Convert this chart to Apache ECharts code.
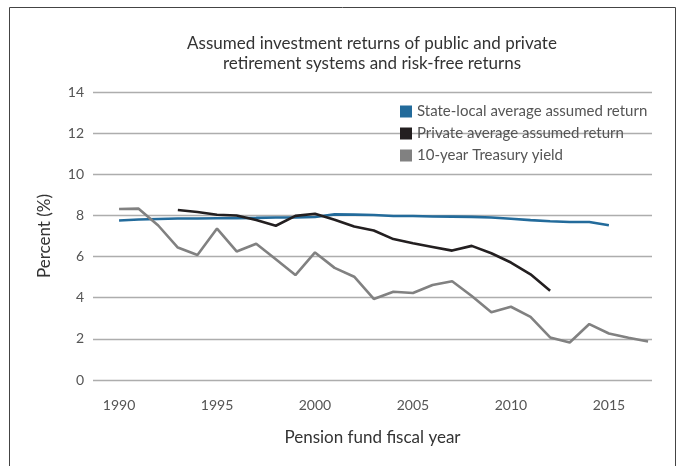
<!DOCTYPE html>
<html>
<head>
<meta charset="utf-8">
<script src="https://cdn.jsdelivr.net/npm/echarts@6/dist/echarts.min.js"></script>
<style>
html,body{margin:0;padding:0;background:#fff;}
#c{width:680px;height:466px;}
</style>
</head>
<body>
<div id="c"></div>
<script>
var titleLines = ['Assumed investment returns of public and private', 'retirement systems and risk-free returns'];
var xTickLabels = [1990, 1995, 2000, 2005, 2010, 2015];
var seriesNames = ['State-local average assumed return', 'Private average assumed return', '10-year Treasury yield'];

var stateYears = [1990,1991,1992,1993,1994,1995,1996,1997,1998,1999,2000,2001,2002,2003,2004,2005,2006,2007,2008,2009,2010,2011,2012,2013,2014,2015];
var stateValues = [7.75,7.80,7.83,7.85,7.85,7.86,7.87,7.88,7.90,7.90,7.92,8.05,8.04,8.02,7.97,7.97,7.95,7.94,7.93,7.90,7.84,7.77,7.72,7.68,7.68,7.52];

var privateYears = [1993,1994,1995,1996,1997,1998,1999,2000,2001,2002,2003,2004,2005,2006,2007,2008,2009,2010,2011,2012];
var privateValues = [8.26,8.17,8.03,8.00,7.78,7.50,7.98,8.08,7.79,7.46,7.27,6.85,6.65,6.47,6.29,6.52,6.16,5.71,5.14,4.34];

var treasuryYears = [1990,1991,1992,1993,1994,1995,1996,1997,1998,1999,2000,2001,2002,2003,2004,2005,2006,2007,2008,2009,2010,2011,2012,2013,2014,2015,2016,2017];
var treasuryValues = [8.31,8.33,7.51,6.44,6.08,7.36,6.25,6.62,5.87,5.10,6.20,5.45,5.02,3.94,4.29,4.23,4.62,4.80,4.08,3.29,3.56,3.07,2.07,1.82,2.72,2.26,2.05,1.87];

function pairs(xs, ys){ return xs.map(function(x,i){ return [x, ys[i]]; }); }

var FONT = 'Lato';
var colors = ['#236b9b', '#231f20', '#818181'];

var chart = echarts.init(document.getElementById('c'), null, {renderer:'canvas'});
chart.setOption({
  animation: false,
  backgroundColor: '#fff',
  color: colors,
  textStyle: {fontFamily: FONT},
  title: {
    text: titleLines.join('\n'),
    left: 372, top: 34, textAlign: 'center', padding: 0,
    textStyle: {fontFamily: FONT, fontSize: 17, fontWeight: 'normal', color: '#333', lineHeight: 20}
  },
  graphic: [{
    type: 'rect', left: 7, top: 5, silent: true,
    shape: {width: 666, height: 470},
    style: {fill: 'none', stroke: '#444', lineWidth: 1}
  }],
  legend: {
    orient: 'vertical', left: 400, top: 104, padding: 0,
    itemWidth: 12, itemHeight: 12, itemGap: 7, icon: 'rect',
    textStyle: {fontFamily: FONT, fontSize: 15, color: '#555'},
    data: seriesNames
  },
  grid: {left: 93, right: 28, top: 92, bottom: 86, containLabel: false},
  xAxis: {
    type: 'value', min: 1988.67, max: 2017.2,
    name: 'Pension fund fiscal year', nameLocation: 'middle', nameGap: 49,
    nameTextStyle: {fontFamily: FONT, fontSize: 17, color: '#333'},
    axisLine: {show: false}, axisTick: {show: false}, splitLine: {show: false},
    axisLabel: {customValues: xTickLabels, fontFamily: FONT, fontSize: 14, color: '#555', margin: 18,
      formatter: function(v){ return String(v); }}
  },
  yAxis: {
    type: 'value', min: 0, max: 14, interval: 2,
    name: 'Percent (%)', nameLocation: 'middle', nameGap: 40, nameRotate: 90,
    nameTextStyle: {fontFamily: FONT, fontSize: 17, color: '#333'},
    axisLine: {show: false}, axisTick: {show: false},
    splitLine: {lineStyle: {color: '#adadad', width: 1.3}},
    axisLabel: {fontFamily: FONT, fontSize: 14, color: '#555', margin: 9}
  },
  series: [
    {name: seriesNames[0], type: 'line', data: pairs(stateYears, stateValues), showSymbol: false, symbol: 'none',
      lineStyle: {width: 2.6, color: colors[0]}, itemStyle: {color: colors[0]}},
    {name: seriesNames[1], type: 'line', data: pairs(privateYears, privateValues), showSymbol: false, symbol: 'none',
      lineStyle: {width: 2.6, color: colors[1]}, itemStyle: {color: colors[1]}},
    {name: seriesNames[2], type: 'line', data: pairs(treasuryYears, treasuryValues), showSymbol: false, symbol: 'none',
      lineStyle: {width: 2.6, color: colors[2]}, itemStyle: {color: colors[2]}}
  ]
});
</script>
</body>
</html>
